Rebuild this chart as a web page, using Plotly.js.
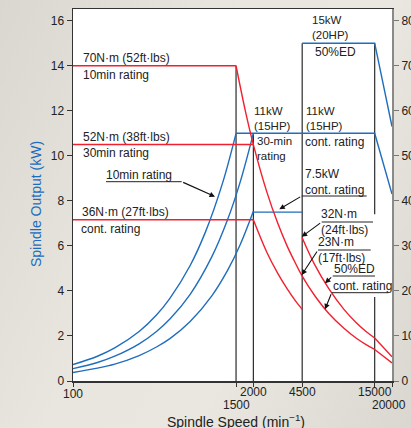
<!DOCTYPE html>
<html><head><meta charset="utf-8">
<script src="https://cdn.plot.ly/plotly-3.0.1.min.js"></script>
<style>
html,body{margin:0;padding:0;width:411px;height:428px;overflow:hidden;
background:linear-gradient(115deg,#d9d7cf 0%,#e8e6df 40%,#e9e7e0 65%,#d9d7cf 100%);}
#chart{width:411px;height:428px;}
</style></head><body><div id="chart"></div>
<script>
// ---- Spindle output (kW), blue ----
const rise10Speed = [100, 150, 200, 300, 400, 500, 700, 900, 1200, 1500];
const rise10kW    = [0.73, 1.10, 1.47, 2.20, 2.93, 3.67, 5.13, 6.60, 8.80, 11.0];
const rise30Speed = [100, 150, 200, 300, 400, 500, 700, 1000, 1300, 1600, 2000];
const rise30kW    = [0.55, 0.82, 1.10, 1.65, 2.20, 2.75, 3.85, 5.50, 7.15, 8.80, 11.0];
const riseContSpeed = [100, 150, 200, 300, 400, 500, 700, 1000, 1300, 1600, 2000];
const riseContkW    = [0.38, 0.57, 0.75, 1.13, 1.51, 1.88, 2.64, 3.77, 4.90, 6.03, 7.54];
const out11Speed = [1500, 15000, 20000];
const out11kW    = [11, 11, 8.3];
const out75Speed = [2000, 4500];
const out75kW    = [7.5, 7.5];
const out15Speed = [4500, 15000, 20000];
const out15kW    = [15, 15, 11.3];

// ---- Torque (N·m), red ----
const t10FlatSpeed = [100, 1500];
const t10Flat      = [70, 70];
const t30FlatSpeed = [100, 2000];
const t30Flat      = [52.5, 52.5];
const tContFlatSpeed = [100, 2000];
const tContFlat      = [35.8, 35.8];
const t11Speed = [1500, 1750, 2000, 2500, 3000, 3500, 4000, 4500, 5500, 7000, 9000, 11000, 13000, 15000];
const t11      = [70, 60, 52.5, 42, 35, 30, 26.3, 23.3, 19.1, 15.0, 11.7, 9.55, 8.08, 7.0];
const t11TailSpeed = [15000, 20000];
const t11Tail      = [7.0, 4.0];
const t75Speed = [2000, 2500, 3000, 3500, 4000, 4500];
const t75      = [35.8, 28.6, 23.9, 20.5, 17.9, 15.9];
const tEdSpeed = [4500, 5500, 7000, 9000, 11000, 13000, 15000];
const tEd      = [31.8, 26.0, 20.5, 15.9, 13.0, 11.0, 9.55];
const tEdTailSpeed = [15000, 20000];
const tEdTail      = [9.55, 5.4];

// ---- rating boundary lines (speed, kW) ----
const boundSpeed = [1500, 1500, null, 2000, 2000, null, 4500, 4500, null, 15000, 15000, null, 15000, 15000];
const boundkW    = [14, 0, null, 11, 0, null, 15, 0, null, 15, 7.4, null, 3.73, 0];

// ---- axis ticks ----
const speedTicks = [100, 1500, 2000, 4500, 15000, 20000];
const speedTickLabels = ['100', '1500', '2000', '4500', '15000', '20000'];
const speedTickLow = [false, true, false, false, false, true];
const kWTicks = [0, 2, 4, 6, 8, 10, 12, 14, 16];
const nmTicks = [0, 10, 20, 30, 40, 50, 60, 70, 80];

const BLUE = '#1f6dbd', RED = '#f2202f', BLACK = '#2b2b2b';
const FONT = 'Liberation Sans, Arial, Noto Sans CJK JP, sans-serif';

function tr(x, y, color, axis, shape, w) {
  return {x: x, y: y, type: 'scatter', mode: 'lines', yaxis: axis,
    line: {color: color, width: w || 1.4, shape: shape || 'linear'},
    hoverinfo: 'skip', showlegend: false, connectgaps: false};
}

const data = [
  tr(boundSpeed, boundkW, BLACK, 'y', 'linear', 1.2),
  tr(t10FlatSpeed, t10Flat, RED, 'y2'),
  tr(t30FlatSpeed, t30Flat, RED, 'y2'),
  tr(tContFlatSpeed, tContFlat, RED, 'y2'),
  tr(t11Speed, t11, RED, 'y2', 'spline'),
  tr(t11TailSpeed, t11Tail, RED, 'y2'),
  tr(t75Speed, t75, RED, 'y2', 'spline'),
  tr(tEdSpeed, tEd, RED, 'y2', 'spline'),
  tr(tEdTailSpeed, tEdTail, RED, 'y2'),
  tr(rise10Speed, rise10kW, BLUE, 'y', 'spline'),
  tr(rise30Speed, rise30kW, BLUE, 'y', 'spline'),
  tr(riseContSpeed, riseContkW, BLUE, 'y', 'spline'),
  tr(out11Speed, out11kW, BLUE, 'y'),
  tr(out75Speed, out75kW, BLUE, 'y'),
  tr(out15Speed, out15kW, BLUE, 'y')
];

// pixel -> paper helpers (plot area: x 73..392, y 9..381)
const L = 73, T = 9, W = 319, H = 372;
const px = x => (x - L) / W;
const py = y => (T + H - y) / H;

const txt = (s, x, y, size) => ({
  text: s, xref: 'paper', yref: 'paper', x: px(x), y: py(y),
  xanchor: 'left', yanchor: 'middle', align: 'left', showarrow: false, borderpad: 0,
  font: {family: FONT, size: size || 12, color: '#222'}
});

const arrow = (tx, ty, hx, hy) => ({
  text: '', xref: 'paper', yref: 'paper', x: px(hx), y: py(hy),
  axref: 'pixel', ayref: 'pixel', ax: tx - hx, ay: ty - hy,
  showarrow: true, arrowhead: 2, arrowsize: 1, arrowwidth: 1.1,
  arrowcolor: '#111', standoff: 0, startstandoff: 0
});

const annotations = [
  txt('70N·m (52ft·lbs)', 82, 58),
  txt('10min rating', 82, 75),
  txt('52N·m (38ft·lbs)', 82, 137),
  txt('30min rating', 82, 153),
  txt('10min rating', 105, 175),
  txt('36N·m (27ft·lbs)', 81, 212),
  txt('cont. rating', 80, 229),
  txt('11kW<br>(15HP)', 253, 119, 11.5),
  txt('30-min<br>rating', 256, 148, 11.5),
  txt('11kW<br>(15HP)', 305, 119, 11.5),
  txt('cont. rating', 304, 142),
  txt('15kW<br>(20HP)', 311, 27.5, 11.5),
  txt('50%ED', 314, 52),
  txt('7.5kW<br>cont. rating', 304, 182),
  txt('32N·m<br>(24ft·lbs)', 320, 222),
  txt('23N·m<br>(17ft·lbs)', 317, 250),
  txt('50%ED', 333, 269),
  txt('cont. rating', 332, 286),
  arrow(181.7, 181.7, 215, 196.7),
  arrow(301.7, 196, 279.3, 209.3),
  arrow(321.7, 222, 301.7, 236.7),
  arrow(318, 250, 301.7, 275),
  arrow(332.7, 276, 325, 283.3),
  arrow(331.7, 292.7, 325, 309.3),
  // axis titles
  {text: 'Spindle Output (kW)', xref: 'paper', yref: 'paper', x: px(36), y: py(204),
   xanchor: 'center', yanchor: 'middle', textangle: -90, showarrow: false,
   font: {family: FONT, size: 14, color: '#1a6cc0'}},
  {text: 'Spindle Speed (min<sup>−1</sup>)', xref: 'paper', yref: 'paper', x: px(236), y: py(421),
   xanchor: 'center', yanchor: 'middle', showarrow: false,
   font: {family: FONT, size: 14, color: '#222'}}
];

// staggered speed tick labels
speedTicks.forEach((v, i) => {
  const last = i === speedTicks.length - 1;
  annotations.push({
    text: speedTickLabels[i], xref: 'x', yref: 'paper', x: Math.log10(v),
    y: py(speedTickLow[i] ? 405 : (i === 0 ? 394 : 392)),
    xanchor: 'center', yanchor: 'middle', xshift: last ? -3 : 0, borderpad: 0,
    showarrow: false, font: {family: FONT, size: 12, color: '#222'}
  });
});

const ul = (x0, x1, y) => ({type: 'line', xref: 'paper', yref: 'paper',
  x0: px(x0), x1: px(x1), y0: py(y), y1: py(y), line: {color: '#222', width: 1}});
const shapes = [
  ul(106, 181.7, 181.7),
  ul(301.7, 366.7, 196),
  ul(321.7, 373, 222),
  ul(318, 370.7, 250),
  ul(332.7, 375, 276),
  ul(331.7, 388.3, 292.7)
];

const layout = {
  width: 411, height: 428,
  margin: {l: L, r: 411 - L - W, t: T, b: 428 - T - H, pad: 0},
  paper_bgcolor: 'rgba(0,0,0,0)', plot_bgcolor: '#ffffff',
  font: {family: FONT, size: 12, color: '#222'},
  showlegend: false,
  xaxis: {type: 'log', range: [2, Math.log10(20000)], tickvals: speedTicks, showticklabels: false,
    ticks: 'outside', ticklen: 4, tickcolor: '#333', showline: true, linecolor: '#333', linewidth: 1.5,
    mirror: true, showgrid: false, zeroline: false, fixedrange: true},
  yaxis: {range: [0, 16.52], tickvals: kWTicks, ticks: 'outside', ticklen: 5, tickcolor: '#333',
    showline: true, linecolor: '#333', linewidth: 1.5, showgrid: false, zeroline: false,
    tickfont: {family: FONT, size: 12, color: '#222'}},
  yaxis2: {range: [0, 82.6], tickvals: nmTicks, overlaying: 'y', side: 'right', ticks: 'outside',
    ticklen: 5, tickcolor: '#777', showline: true, linecolor: '#8a8a8a', linewidth: 2,
    showgrid: false, zeroline: false, tickfont: {family: FONT, size: 12, color: '#222'}},
  annotations: annotations,
  shapes: shapes
};

Plotly.newPlot('chart', data, layout, {staticPlot: true, displayModeBar: false});
</script></body></html>
